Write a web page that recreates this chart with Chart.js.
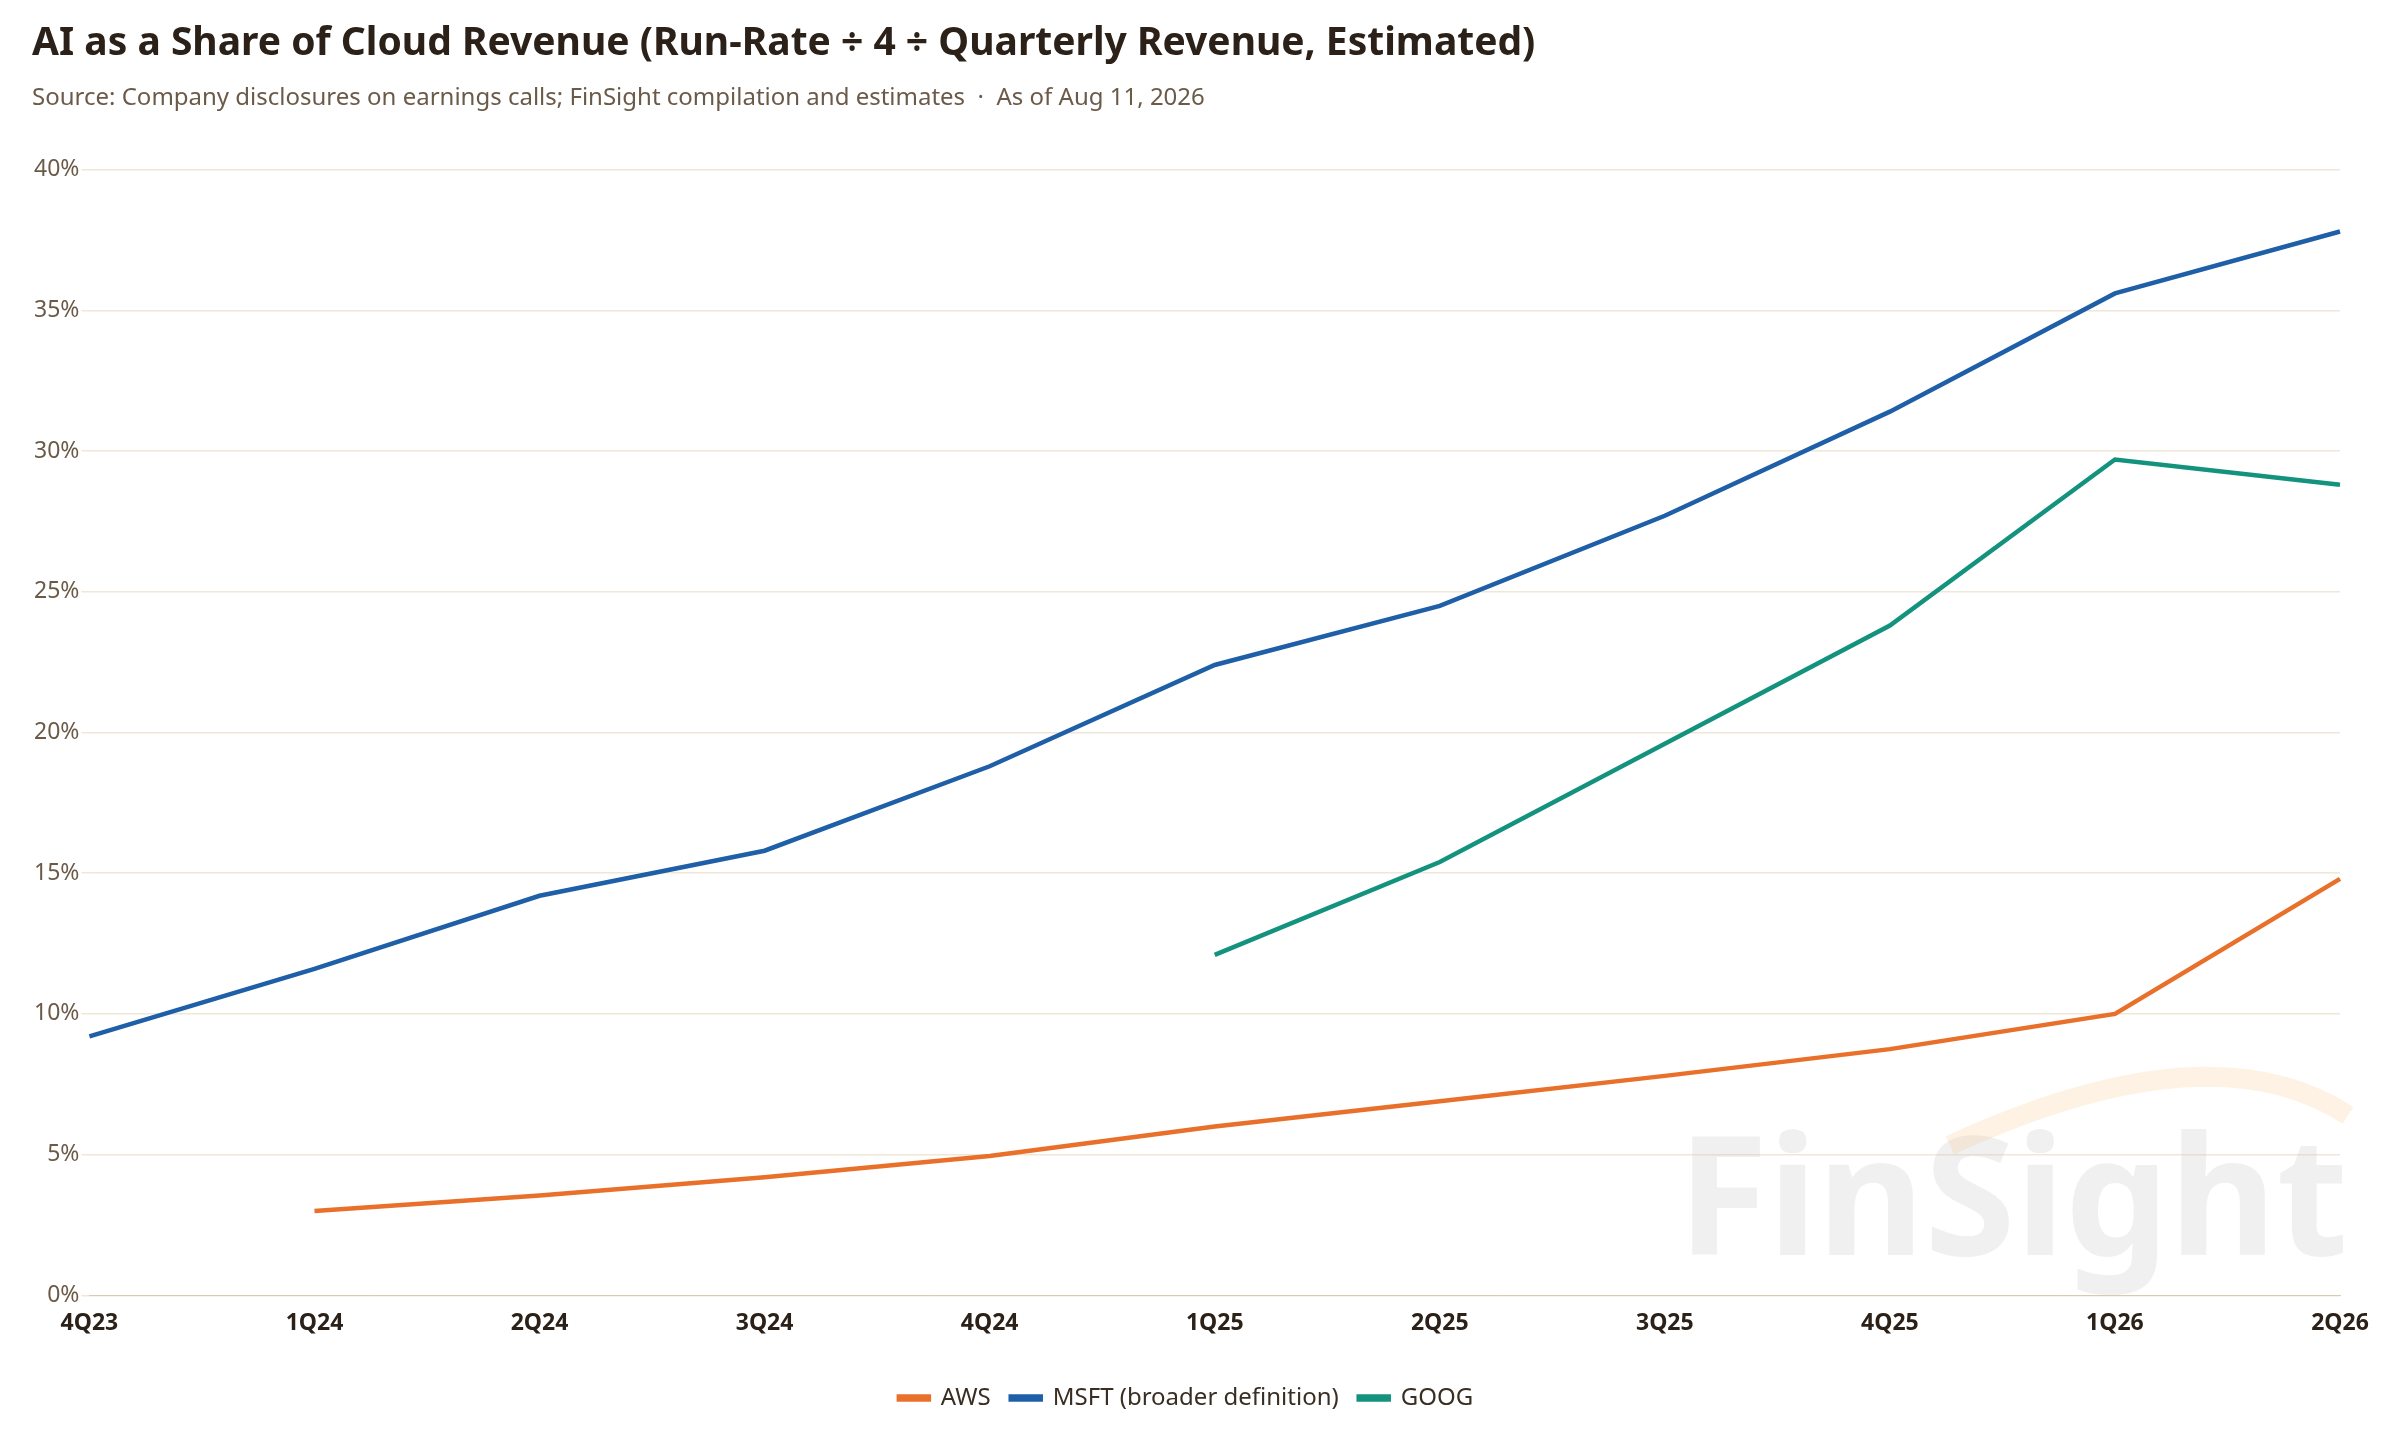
<!DOCTYPE html>
<html><head><meta charset="utf-8">
<script src="https://cdn.jsdelivr.net/npm/chart.js@4/dist/chart.umd.min.js"></script>
<style>html,body{margin:0;background:#fff}#w{width:2400px;height:1440px}</style></head>
<body><div id="w"><canvas id="c"></canvas></div>
<script>
const categories=["4Q23","1Q24","2Q24","3Q24","4Q24","1Q25","2Q25","3Q25","4Q25","1Q26","2Q26"];
const aws=[null,3.0,3.55,4.2,4.95,6.0,6.9,7.8,8.75,10.0,14.8];
const msft=[9.2,11.6,14.2,15.8,18.8,22.4,24.5,27.7,31.4,35.6,37.8];
const goog=[null,null,null,null,null,12.1,15.4,19.6,23.8,29.7,28.8];
const yTicks=[0,5,10,15,20,25,30,35,40];
const F="'Segoe UI','Noto Sans','Open Sans',sans-serif";
const wm={id:'wm',beforeDatasetsDraw(ch){const a=ch.chartArea,c=ch.ctx;c.save();
c.fillStyle='rgba(200,200,200,0.28)';c.font='bold 165px '+F;c.textAlign='right';c.textBaseline='alphabetic';
c.fillText('FinSight',a.right+8,a.bottom-40);
c.strokeStyle='rgba(245,190,120,0.2)';c.lineWidth=20;c.beginPath();
c.moveTo(a.right-390,a.bottom-150);c.quadraticCurveTo(a.right-130,a.bottom-270,a.right+8,a.bottom-180);c.stroke();c.restore();}};
new Chart(document.getElementById('c'),{type:'line',
data:{labels:categories,datasets:[
{label:'AWS',data:aws,borderColor:'#E8702A',backgroundColor:'#E8702A'},
{label:'MSFT (broader definition)',data:msft,borderColor:'#1F5FA8',backgroundColor:'#1F5FA8'},
{label:'GOOG',data:goog,borderColor:'#13927E',backgroundColor:'#13927E'}]},
options:{responsive:true,maintainAspectRatio:false,animation:false,
layout:{padding:{left:32,right:60,top:10,bottom:20}},
elements:{point:{radius:0},line:{borderWidth:4.5,tension:0}},
plugins:{title:{display:true,text:'AI as a Share of Cloud Revenue (Run-Rate ÷ 4 ÷ Quarterly Revenue, Estimated)',align:'start',color:'#2B2118',font:{family:F,size:39,weight:'bold'},padding:{top:10,bottom:17}},
subtitle:{display:true,text:'Source: Company disclosures on earnings calls; FinSight compilation and estimates  ·  As of Aug 11, 2026',align:'start',color:'#6B5A48',font:{family:F,size:24},padding:{bottom:57}},
legend:{position:'bottom',labels:{boxWidth:30,boxHeight:3,color:'#3A2E22',font:{family:F,size:24},padding:20}},tooltip:{enabled:false}},
scales:{x:{offset:false,afterFit(s){s.height+=23;},grid:{display:false},border:{color:'#D8CBB0'},ticks:{color:'#2B2118',font:{family:F,size:23,weight:'bold'},padding:6}},
y:{min:0,max:40,afterBuildTicks(s){s.ticks=yTicks.map(v=>({value:v}));},grid:{color:'#EFE8D6',lineWidth:1.5},border:{display:false},
ticks:{color:'#6B5A48',font:{family:F,size:23},callback:v=>v+'%',padding:2}}}},plugins:[wm]});
</script></body></html>
